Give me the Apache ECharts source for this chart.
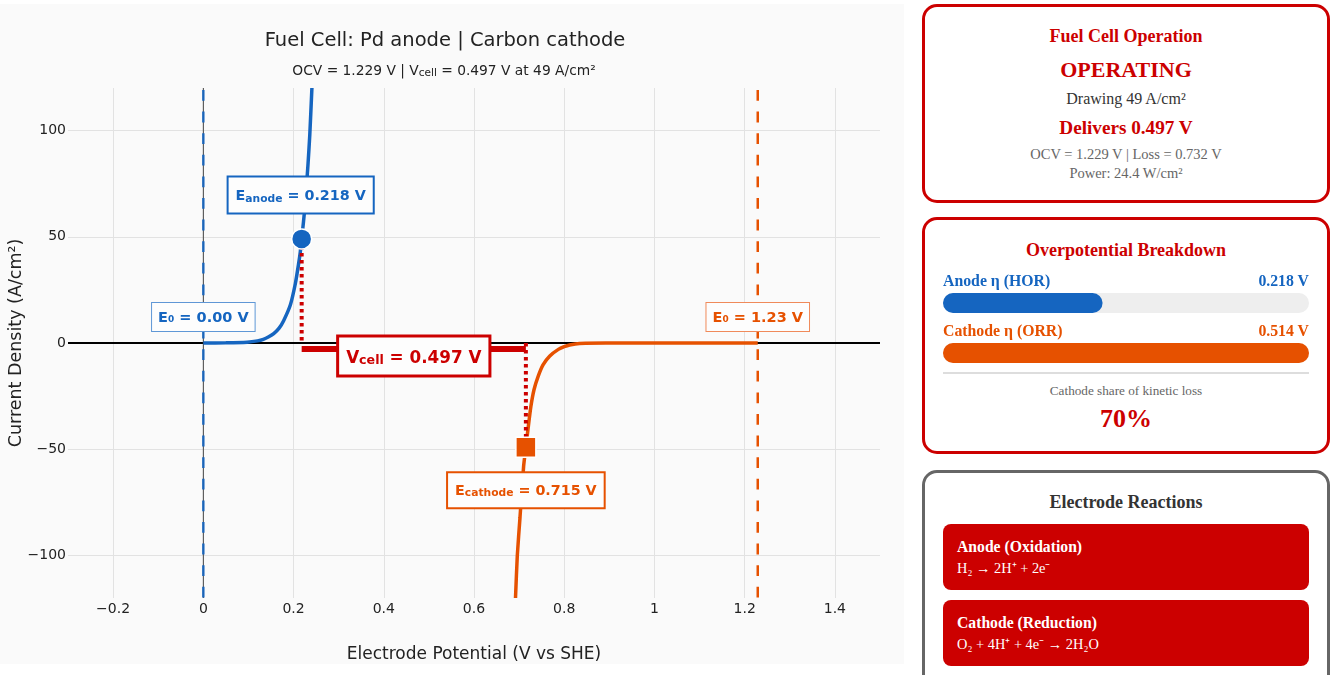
<!DOCTYPE html>
<html>
<head>
<meta charset="utf-8">
<title>Fuel Cell</title>
<script src="https://cdn.jsdelivr.net/npm/echarts@6/dist/echarts.min.js"></script>
<style>
html, body { margin: 0; padding: 0; width: 1331px; height: 675px; overflow: hidden; background: #fff; }
body { font-family: "Liberation Serif", serif; position: relative; }
#main { position: absolute; left: 0; top: 4px; width: 904px; height: 660px; }
.panel { position: absolute; left: 922px; width: 402px; border: 3px solid #cc0000; border-radius: 15px; background: #fff; }
.line { position: absolute; left: 922px; width: 408px; text-align: center; white-space: nowrap; transform: translateY(-50%); z-index: 2; }
.row { position: absolute; left: 943px; width: 366px; display: flex; justify-content: space-between; font-weight: bold; font-size: 15.8px; transform: translateY(-50%); z-index: 2; }
.box { position: absolute; left: 943px; width: 366px; height: 66px; background: #cc0000; border-radius: 8px; }
.box div { position: absolute; left: 14px; white-space: nowrap; color: #fff; transform: translateY(-50%); }
.hr { position: absolute; left: 943px; width: 366px; top: 372px; height: 2px; background: #ddd; }
#bars { position: absolute; left: 943px; top: 278px; width: 366px; height: 100px; z-index: 1; }
</style>
</head>
<body>
<div id="main"></div>

<div class="panel" style="top:4px;height:193px"></div>
<div class="line" style="top:36px;font-size:18px;font-weight:bold;color:#cc0000">Fuel Cell Operation</div>
<div class="line" style="top:70px;font-size:22px;font-weight:bold;color:#cc0000">OPERATING</div>
<div class="line" style="top:99px;font-size:16px;color:#333">Drawing 49 A/cm²</div>
<div class="line" style="top:128px;font-size:19.2px;font-weight:bold;color:#cc0000">Delivers 0.497 V</div>
<div class="line" style="top:154px;font-size:14.5px;color:#666">OCV = 1.229 V | Loss = 0.732 V</div>
<div class="line" style="top:173px;font-size:14.5px;color:#666">Power: 24.4 W/cm²</div>

<div class="panel" style="top:217px;height:231px"></div>
<div class="line" style="top:250px;font-size:18px;font-weight:bold;color:#cc0000">Overpotential Breakdown</div>
<div class="row" style="top:281px;color:#1565c0"><span>Anode η (HOR)</span><span>0.218 V</span></div>
<div class="row" style="top:331px;color:#e65100"><span>Cathode η (ORR)</span><span>0.514 V</span></div>
<div id="bars"></div>
<div class="hr"></div>
<div class="line" style="top:391px;font-size:13.2px;color:#666">Cathode share of kinetic loss</div>
<div class="line" style="top:419px;font-size:26px;font-weight:bold;color:#cc0000">70%</div>

<div class="panel" style="top:470px;height:260px;border-color:#666"></div>
<div class="line" style="top:502px;font-size:18px;font-weight:bold;color:#333">Electrode Reactions</div>
<div class="box" style="top:524px">
	<div style="top:23px;font-size:15.7px;font-weight:bold">Anode (Oxidation)</div>
	<div style="top:43px;font-size:14.4px">H₂ → 2H⁺ + 2e⁻</div>
</div>
<div class="box" style="top:600px">
	<div style="top:23px;font-size:15.7px;font-weight:bold">Cathode (Reduction)</div>
	<div style="top:43px;font-size:14.4px">O₂ + 4H⁺ + 4e⁻ → 2H₂O</div>
</div>

<script>
var BLUE = '#1565c0', ORANGE = '#e65100', RED = '#cc0000';
var FONT = '"DejaVu Sans"';

var xTicks = [-0.2, 0, 0.2, 0.4, 0.6, 0.8, 1, 1.2, 1.4];
var yTicks = [-100, -50, 0, 50, 100];

// [potential V, current A/cm2]
var anodeCurve = [[0, 0], [0.05, 0.1], [0.097, 0.4], [0.12, 1], [0.133, 1.7], [0.145, 2.9], [0.156, 4.4], [0.168, 7],
	[0.178, 10.5], [0.193, 18], [0.204, 28], [0.211, 37], [0.215, 43], [0.218, 49], [0.222, 57], [0.226, 66],
	[0.232, 84], [0.236, 98], [0.2407, 120]];
var cathodeCurve = [[1.229, 0], [1.0, -0.02], [0.9, -0.05], [0.834, -0.2], [0.812, -0.9], [0.8, -1.7], [0.787, -3],
	[0.768, -6.1], [0.753, -10.3], [0.742, -15.8], [0.733, -22], [0.726, -30], [0.72, -40], [0.715, -49],
	[0.71, -58], [0.702, -82], [0.696, -100], [0.692, -120]];

var E0anode = 0, E0cathode = 1.229;
var Eanode = 0.218, Ecathode = 0.715, jCell = 49, vcellBarY = -2.8;

var barNames = ['Anode', 'Cathode'];
var barFill = [43.6, 100];

function tickText(v) {
	return String(v).replace('-', '\u2212');
}

function lineSeries(data, color, width, type, z, extra) {
	var s = {
		type: 'line', data: data, symbol: 'none', silent: true, z: z,
		lineStyle: { color: color, width: width, type: type || 'solid' }
	};
	for (var k in extra) s[k] = extra[k];
	return s;
}

function boxLabel(text, color, border, borderW, offset, fontSize, pad) {
	return {
		show: true, position: 'inside', align: 'center', verticalAlign: 'middle', offset: offset,
		formatter: text, backgroundColor: '#fdfdfd', borderColor: border, borderWidth: borderW,
		padding: pad, opacity: 1,
		color: color, fontFamily: FONT, fontWeight: 'bold', fontSize: fontSize,
		textBorderWidth: 0, textShadowBlur: 0,
		rich: {
			sub: { color: color, fontFamily: FONT, fontWeight: 'bold', fontSize: fontSize * 0.75, verticalAlign: 'bottom', padding: [5, 0, 0, 0], textBorderWidth: 0 },
			t: { color: color, fontFamily: FONT, fontWeight: 'bold', fontSize: fontSize, textBorderWidth: 0 }
		}
	};
}

var myChart = echarts.init(document.getElementById('main'));
myChart.setOption({
	animation: false,
	backgroundColor: '#fafafa',
	title: [{
		text: 'Fuel Cell: Pd anode | Carbon cathode', left: 440, top: 22, textAlign: 'center',
		textStyle: { fontFamily: FONT, fontSize: 19.5, fontWeight: 'normal', color: '#222' }
	}, {
		text: '{t|OCV = 1.229 V | V}{s|cell}{t| = 0.497 V at 49 A/cm²}', left: 439, top: 55, textAlign: 'center',
		textStyle: {
			fontFamily: FONT, fontSize: 13.8, fontWeight: 'normal', color: '#222',
			rich: {
				t: { fontFamily: FONT, fontSize: 13.8, color: '#222' },
				s: { fontFamily: FONT, fontSize: 10.5, color: '#222', verticalAlign: 'bottom', padding: [4, 0, 0, 0] }
			}
		}
	}],
	grid: { left: 68, right: 24, top: 84, bottom: 66, outerBoundsMode: 'none' },
	xAxis: {
		type: 'value', min: -0.3, max: 1.5,
		name: 'Electrode Potential (V vs SHE)', nameLocation: 'middle', nameGap: 48, nameMoveOverlap: false,
		nameTextStyle: { fontFamily: FONT, fontSize: 17, color: '#222' },
		axisLine: { show: false }, axisTick: { show: false, customValues: xTicks },
		axisLabel: { customValues: xTicks, formatter: tickText, fontFamily: FONT, fontSize: 14, color: '#222', margin: 4 },
		splitLine: { show: true, lineStyle: { color: '#e2e2e2', width: 1 } }
	},
	yAxis: {
		type: 'value', min: -120, max: 120,
		name: 'Current Density (A/cm²)', nameLocation: 'middle', nameGap: 43, nameMoveOverlap: false,
		nameTextStyle: { fontFamily: FONT, fontSize: 17.5, color: '#222' },
		axisLine: { show: false }, axisTick: { show: false, customValues: yTicks },
		axisLabel: { customValues: yTicks, formatter: tickText, fontFamily: FONT, fontSize: 14, color: '#222', margin: 2, padding: [8, 0, 0, 0] },
		splitLine: { show: true, lineStyle: { color: '#e2e2e2', width: 1 } }
	},
	series: [
		lineSeries([[-0.3, 0], [1.5, 0]], '#000', 2, 'solid', 2),
		lineSeries([[0, -120], [0, 120]], '#444', 1, 'solid', 2),
		lineSeries([[E0anode, 120], [E0anode, -120]], BLUE, 2.5, 'solid', 3, { lineStyle: { color: BLUE, width: 2.5, type: [10.8, 10.8], dashOffset: 19.6, opacity: 0.9 } }),
		lineSeries([[E0cathode, 120], [E0cathode, -120]], ORANGE, 2.5, 'solid', 3, { lineStyle: { color: ORANGE, width: 2.5, type: [10.8, 10.8], dashOffset: 19.6 } }),
		lineSeries(anodeCurve, BLUE, 3.5, 'solid', 4, { smooth: 0.2 }),
		lineSeries(cathodeCurve, ORANGE, 3.5, 'solid', 4, { smooth: 0.2 }),
		lineSeries([[Eanode, jCell], [Eanode, 0]], RED, 4, [3.5, 3.5], 5),
		lineSeries([[Ecathode, 0], [Ecathode, -jCell]], RED, 4, [3.5, 3.5], 5),
		lineSeries([[Eanode, vcellBarY], [Ecathode, vcellBarY]], RED, 6, 'solid', 5),
		{
			type: 'scatter', silent: true, z: 7, symbol: 'circle', symbolSize: 20,
			itemStyle: { color: BLUE, borderColor: '#fff', borderWidth: 1.5, opacity: 1 },
			data: [[Eanode, jCell]]
		},
		{
			type: 'scatter', silent: true, z: 7, symbol: 'rect', symbolSize: 20,
			itemStyle: { color: ORANGE, borderColor: '#fff', borderWidth: 1.5, opacity: 1 },
			data: [[Ecathode, -jCell]]
		},
		{
			type: 'scatter', silent: true, z: 8, symbolSize: 0, itemStyle: { opacity: 1 },
			data: [
				{ value: [E0anode, 0], label: boxLabel('E₀ = 0.00 V', BLUE, '#5f97d6', 1, [0, -26], 14.5, [8, 6, 5, 6]) },
				{ value: [E0cathode, 0], label: boxLabel('E₀ = 1.23 V', ORANGE, '#f08a5a', 1, [0, -26], 14.5, [8, 6, 5, 6]) },
				{ value: [Eanode, jCell], label: boxLabel('{t|E}{sub|anode}{t| = 0.218 V}', BLUE, BLUE, 2, [-1, -44], 14.3, [11, 7, 8, 7]) },
				{ value: [Ecathode, -jCell], label: boxLabel('{t|E}{sub|cathode}{t| = 0.715 V}', ORANGE, ORANGE, 2, [0, 43], 14.3, [10, 7, 8, 7]) },
				{ value: [(Eanode + Ecathode) / 2, vcellBarY], label: boxLabel('{t|V}{sub|cell}{t| = 0.497 V}', RED, RED, 3, [0, 7], 16.8, [12, 7, 7, 7]) }
			]
		}
	]
});

var barChart = echarts.init(document.getElementById('bars'));
barChart.setOption({
	animation: false,
	grid: { left: 0, right: 0, top: 0, bottom: 0, outerBoundsMode: 'none' },
	xAxis: { type: 'value', min: 0, max: 100, show: false },
	yAxis: { type: 'category', data: barNames, inverse: true, show: false },
	series: [{
		type: 'bar', barWidth: 20, silent: true,
		showBackground: true, backgroundStyle: { color: '#eeeeee', borderRadius: 10 },
		itemStyle: { borderRadius: 10 },
		data: [
			{ value: barFill[0], itemStyle: { color: BLUE } },
			{ value: barFill[1], itemStyle: { color: ORANGE } }
		]
	}]
});
</script>
</body>
</html>
